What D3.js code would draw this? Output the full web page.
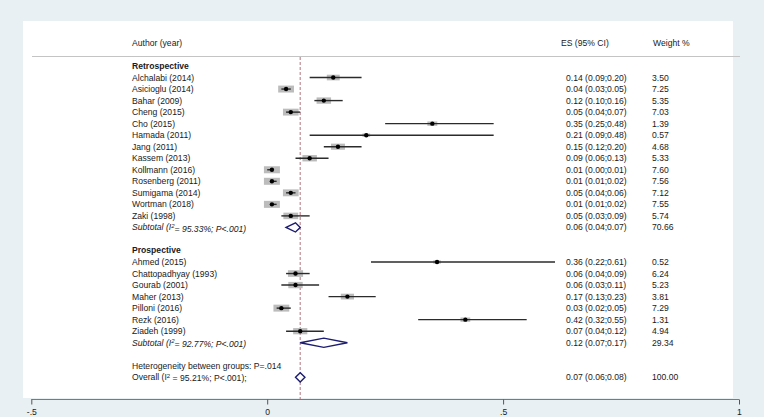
<!DOCTYPE html>
<html>
<head>
<meta charset="utf-8">
<script src="https://cdn.jsdelivr.net/npm/d3@7"></script>
<style>
  body { margin: 0; background: #e9f0f3; }
  svg text { font-family: "Liberation Sans", Arial, sans-serif; font-size: 8.6px; fill: #1a1a1a; }
</style>
</head>
<body>
<svg id="chart" width="764" height="417"></svg>
<script>
// Retrospective studies
var retroNames = ["Alchalabi (2014)", "Asicioglu (2014)", "Bahar (2009)", "Cheng (2015)", "Cho (2015)",
  "Hamada (2011)", "Jang (2011)", "Kassem (2013)", "Kollmann (2016)", "Rosenberg (2011)",
  "Sumigama (2014)", "Wortman (2018)", "Zaki (1998)"];
var retroES = [0.14, 0.04, 0.12, 0.05, 0.35, 0.21, 0.15, 0.09, 0.01, 0.01, 0.05, 0.01, 0.05];
var retroLo = [0.09, 0.03, 0.10, 0.04, 0.25, 0.09, 0.12, 0.06, 0.00, 0.01, 0.04, 0.01, 0.03];
var retroHi = [0.20, 0.05, 0.16, 0.07, 0.48, 0.48, 0.20, 0.13, 0.01, 0.02, 0.06, 0.02, 0.09];
var retroW  = [3.50, 7.25, 5.35, 7.03, 1.39, 0.57, 4.68, 5.33, 7.60, 7.56, 7.12, 7.55, 5.74];

// Prospective studies
var prosNames = ["Ahmed (2015)", "Chattopadhyay (1993)", "Gourab (2001)", "Maher (2013)",
  "Pilloni (2016)", "Rezk (2016)", "Ziadeh (1999)"];
var prosES = [0.36, 0.06, 0.06, 0.17, 0.03, 0.42, 0.07];
var prosLo = [0.22, 0.04, 0.03, 0.13, 0.02, 0.32, 0.04];
var prosHi = [0.61, 0.09, 0.11, 0.23, 0.05, 0.55, 0.12];
var prosW  = [0.52, 6.24, 5.23, 3.81, 7.29, 1.31, 4.94];

// pooled estimates: [es, lo, hi, weight, I2]
var retroPool = [0.06, 0.04, 0.07, 70.66, "95.33%"];
var prosPool  = [0.12, 0.07, 0.17, 29.34, "92.77%"];
var overallPool = [0.07, 0.06, 0.08, 100.00, "95.21%"];
var hetText = "Heterogeneity between groups: P=.014";

var xTicks = [-0.5, 0, 0.5, 1];
var xTickLabels = ["-.5", "0", ".5", "1"];

var svg = d3.select("#chart");
var f2 = d3.format(".2f");

var x = d3.scaleLinear().domain([-0.5, 1]).range([31.3, 739]);
var rowY = function(k) { return 66 + 11.53 * k; };
var boxW = d3.scalePow().exponent(0.28).domain([0, 7.6]).range([0, 16]);

// build rows
var rows = [];
rows.push({type: "head", label: "Retrospective"});
retroNames.forEach(function(n, i) {
  rows.push({type: "study", label: n, es: retroES[i], lo: retroLo[i], hi: retroHi[i], w: retroW[i]});
});
rows.push({type: "sub", i2: retroPool[4], es: retroPool[0], lo: retroPool[1], hi: retroPool[2], w: retroPool[3]});
rows.push({type: "blank"});
rows.push({type: "head", label: "Prospective"});
prosNames.forEach(function(n, i) {
  rows.push({type: "study", label: n, es: prosES[i], lo: prosLo[i], hi: prosHi[i], w: prosW[i]});
});
rows.push({type: "sub", i2: prosPool[4], es: prosPool[0], lo: prosPool[1], hi: prosPool[2], w: prosPool[3]});
rows.push({type: "blank"});
rows.push({type: "het", label: hetText});
rows.push({type: "overall", i2: overallPool[4], es: overallPool[0], lo: overallPool[1], hi: overallPool[2], w: overallPool[3]});

// plot region
svg.append("rect").attr("x", 23).attr("y", 21).attr("width", 710).attr("height", 377).attr("fill", "#fff");

// header
svg.append("text").attr("x", 132).attr("y", 43).attr("dy", "0.35em").text("Author (year)");
svg.append("text").attr("x", 561).attr("y", 43).attr("dy", "0.35em").text("ES (95% CI)");
svg.append("text").attr("x", 653).attr("y", 43).attr("dy", "0.35em").text("Weight %");
svg.append("line").attr("x1", 32).attr("x2", 740).attr("y1", 56.5).attr("y2", 56.5)
  .attr("stroke", "#c4c4c4").attr("stroke-width", 1);

// overall estimate line
svg.append("line").attr("x1", x(overallPool[0])).attr("x2", x(overallPool[0]))
  .attr("y1", 57).attr("y2", 399)
  .attr("stroke", "#c4939b").attr("stroke-width", 1.3).attr("stroke-dasharray", "3,2");

rows.forEach(function(r, k) {
  var y = rowY(k);
  if (r.type === "head") {
    svg.append("text").attr("x", 132).attr("y", y).attr("dy", "0.35em")
      .style("font-weight", "bold").text(r.label);
  } else if (r.type === "het") {
    svg.append("text").attr("x", 132).attr("y", y).attr("dy", "0.35em").text(r.label);
  } else if (r.type === "study") {
    svg.append("text").attr("x", 132).attr("y", y).attr("dy", "0.35em").text(r.label);
    var bw = boxW(r.w), bh = bw * 0.44;
    svg.append("rect").attr("x", x(r.es) - bw / 2).attr("y", y - bh / 2)
      .attr("width", bw).attr("height", bh).attr("fill", "#bcbcbc");
    svg.append("line").attr("x1", x(r.lo)).attr("x2", x(r.hi)).attr("y1", y).attr("y2", y)
      .attr("stroke", "#2b2b2b").attr("stroke-width", 1.4);
    svg.append("circle").attr("cx", x(r.es)).attr("cy", y).attr("r", 2.2).attr("fill", "#000");
  } else if (r.type === "sub" || r.type === "overall") {
    var t = svg.append("text").attr("x", 132).attr("y", y).attr("dy", "0.35em");
    if (r.type === "sub") {
      t.style("font-style", "italic");
      t.append("tspan").text("Subtotal  (I");
      t.append("tspan").attr("dy", "-0.45em").style("font-size", "6px").text("2");
      t.append("tspan").attr("dy", "0.45em").text("= " + r.i2 + "; P<.001)");
    } else {
      t.append("tspan").text("Overall  (I");
      t.append("tspan").attr("dy", "-0.45em").style("font-size", "6px").text("2");
      t.append("tspan").attr("dy", "0.45em").text(" = " + r.i2 + "; P<.001);");
    }
    var dh = 4.6;
    svg.append("path")
      .attr("d", "M" + x(r.lo) + "," + y + "L" + x(r.es) + "," + (y - dh) +
        "L" + x(r.hi) + "," + y + "L" + x(r.es) + "," + (y + dh) + "Z")
      .attr("fill", "#fff").attr("stroke", "#1c1c70").attr("stroke-width", 1.4);
  }
  if (r.es !== undefined) {
    svg.append("text").attr("x", 566).attr("y", y).attr("dy", "0.35em")
      .text(f2(r.es) + " (" + f2(r.lo) + ";" + f2(r.hi) + ")");
    svg.append("text").attr("x", 652).attr("y", y).attr("dy", "0.35em").text(f2(r.w));
  }
});

// x axis
var axis = svg.append("g").attr("transform", "translate(0,399.5)")
  .call(d3.axisBottom(x).tickValues(xTicks).tickSize(5).tickPadding(4)
    .tickFormat(function(d, i) { return xTickLabels[i]; }));
axis.select(".domain").attr("stroke", "#7a7a7a").attr("stroke-width", 1.2).attr("d", "M31.3,0H739");
axis.selectAll(".tick line").attr("stroke", "#555");
axis.selectAll(".tick text").style("font-size", "8.6px").attr("fill", "#222")
  .style("font-family", "Liberation Sans, Arial, sans-serif");
</script>
</body>
</html>
